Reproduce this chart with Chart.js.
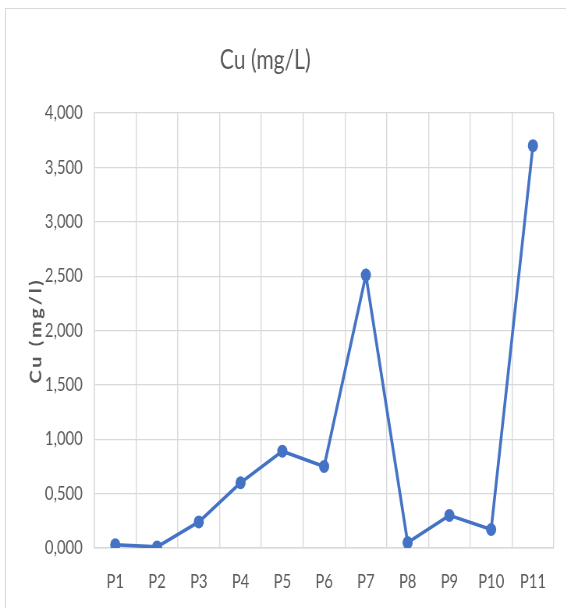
<!DOCTYPE html>
<html>
<head>
<meta charset="utf-8">
<script src="https://cdn.jsdelivr.net/npm/chart.js@4/dist/chart.umd.min.js"></script>
<style>
  html, body { margin: 0; padding: 0; background: #ffffff; }
  #wrap { position: relative; width: 566px; height: 608px; overflow: hidden; background: #ffffff; }
  #frame { position: absolute; left: 5px; top: 8px; width: 600px; height: 640px;
           border-left: 1px solid #d9d9d9; border-top: 1px solid #d9d9d9; }
  /* the chart is laid out wide and then condensed horizontally */
  #squash { position: absolute; left: 0; top: 0; width: 726px; height: 608px;
            transform: scaleX(0.78); transform-origin: 0 0; }
  canvas { display: block; }
</style>
</head>
<body>
<div id="wrap">
  <div id="frame"></div>
  <div id="squash"><canvas id="chart" width="726" height="608"></canvas></div>
</div>
<script>
// Sampling points and measured copper concentrations
const categories = ['P1', 'P2', 'P3', 'P4', 'P5', 'P6', 'P7', 'P8', 'P9', 'P10', 'P11'];
const cuValues = [0.03, 0.01, 0.24, 0.60, 0.89, 0.75, 2.51, 0.05, 0.30, 0.17, 3.70];
const yTicks = [0, 0.5, 1, 1.5, 2, 2.5, 3, 3.5, 4];
const chartTitle = 'Cu (mg/L)';
const yTitle = 'Cu (mg/l)';

const FONT = "Lato, 'Liberation Sans', sans-serif";
const TEXT = '#595959';
const GRID = '#d9d9d9';
const BLUE = '#4472C4';

// Chart heading and rotated y-axis caption
const captions = {
  id: 'captions',
  afterDraw(chart) {
    const ctx = chart.ctx;
    ctx.save();
    ctx.fillStyle = TEXT;
    ctx.textAlign = 'center';
    ctx.textBaseline = 'middle';
    ctx.font = `27px ${FONT}`;
    ctx.fillText(chartTitle, 340, 60);

    ctx.translate(47, (chart.chartArea.top + chart.chartArea.bottom) / 2);
    ctx.rotate(-Math.PI / 2);
    ctx.font = `bold 20px ${FONT}`;
    if ('letterSpacing' in ctx) ctx.letterSpacing = '2.7px';
    ctx.fillText(yTitle, 0, 0);
    ctx.restore();
  }
};

new Chart(document.getElementById('chart'), {
  type: 'line',
  data: {
    labels: categories,
    datasets: [{
      label: chartTitle,
      data: cuValues,
      borderColor: BLUE,
      backgroundColor: BLUE,
      borderWidth: 3.6,
      pointRadius: 6.5,
      pointBorderWidth: 0,
      tension: 0
    }]
  },
  options: {
    responsive: false,
    animation: false,
    layout: { padding: { left: 0, right: 16, top: 113, bottom: 0 } },
    plugins: {
      legend: { display: false },
      tooltip: { enabled: false },
      title: { display: false }
    },
    scales: {
      x: {
        offset: true,
        afterFit: (scale) => { scale.height = 60; },
        grid: { offset: true, color: GRID, lineWidth: 1.4, drawTicks: false },
        border: { color: GRID, width: 1.4 },
        ticks: { color: TEXT, font: { family: FONT, size: 19 }, padding: 22, maxRotation: 0 }
      },
      y: {
        min: 0,
        max: 4,
        afterBuildTicks: (scale) => { scale.ticks = yTicks.map(v => ({ value: v })); },
        afterFit: (scale) => { scale.width = 121; },
        grid: { color: GRID, lineWidth: 1.2, drawTicks: false },
        border: { color: GRID, width: 1.4 },
        ticks: {
          color: TEXT,
          font: { family: FONT, size: 19 },
          padding: 15,
          callback: (v) => Number(v).toFixed(3).replace('.', ',')
        }
      }
    }
  },
  plugins: [captions]
});
</script>
</body>
</html>
